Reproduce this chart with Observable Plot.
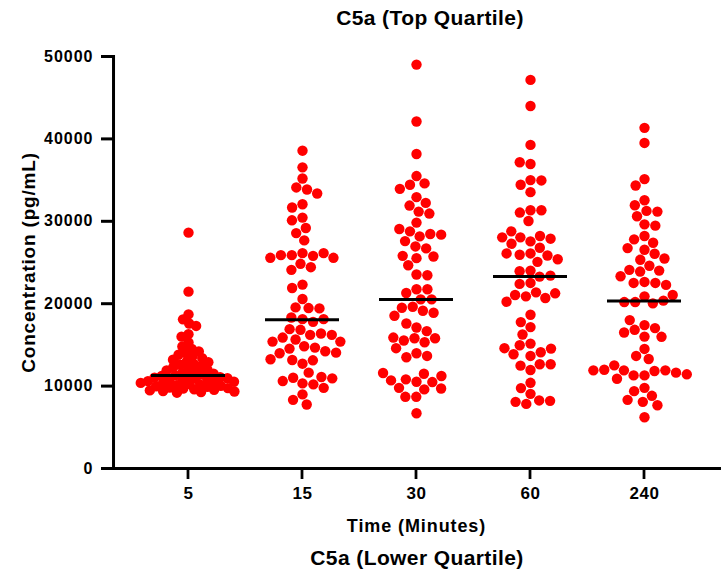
<!DOCTYPE html>
<html><head><meta charset="utf-8">
<script src="https://cdn.jsdelivr.net/npm/d3@7"></script>
<script src="https://cdn.jsdelivr.net/npm/@observablehq/plot@0.6"></script>
<style>
body{margin:0;background:#fff;}
#wrap{width:724px;height:569px;overflow:hidden;position:relative;background:#fff;font-family:"Liberation Sans",Arial,sans-serif;color:#000}
.ttl{position:absolute;width:600px;text-align:center;font-weight:bold;font-size:21px;line-height:21px;letter-spacing:0.4px;white-space:nowrap}
#chart{position:absolute;left:0;top:36px}
g[aria-label="y-axis label"] text{font-size:19px;letter-spacing:0.8px}
g[aria-label="fx-axis label"] text{font-size:18px;letter-spacing:0.9px}
g[aria-label="y-axis tick label"] text{font-size:16px;letter-spacing:1px}
g[aria-label="fx-axis tick label"] text{font-size:17px;letter-spacing:0.6px}
</style></head>
<body>
<div id="wrap">
  <div class="ttl" style="left:130px;top:7px">C5a (Top Quartile)</div>
  <div id="chart"></div>
  <div class="ttl" style="left:117px;top:547px">C5a (Lower Quartile)</div>
</div>
<script>
const times = ["5", "15", "30", "60", "240"];
const yTicks = [0, 10000, 20000, 30000, 40000, 50000];
const medians = [11300, 18050, 20500, 23300, 20330];

const t5 = [28620, 21460, 18700, 18100, 17600, 17300, 16300, 16000, 15300, 14800, 14500, 14200, 14000, 13800, 13600, 13400, 13200, 13000, 12900, 12700, 12600, 12400, 12300, 12100, 12000, 11900, 11800, 11600, 11500, 11400,
  11300,
  11230, 11160, 11090, 11020, 10950, 10880, 10810, 10740, 10670, 10600, 10530, 10460, 10390, 10320, 10250, 10180, 10110, 10040, 9970, 9900, 9830, 9760, 9690, 9620, 9550, 9480, 9410, 9340, 9270, 9200];
const t15 = [38570, 36550, 35200, 34110, 33860, 33380, 32070, 31670, 30450, 30120, 29190, 28570, 27680, 26140, 25890, 25810, 26140, 25890, 25570, 25570, 24840, 24430, 24110, 22320, 21910, 20570, 19550, 19470, 19430, 18130, 18330, 17800, 18130, 16830, 16910, 16220, 16380, 15890, 16220, 15650, 14840, 15400, 15400, 14670, 14550, 14230, 13990, 14060, 12720, 13170, 13130, 13260, 10330, 11010, 10210, 11100, 11630, 10610, 10940, 8990, 9790, 8330, 7770];
const t30 = [49020, 42110, 38170, 35490, 34430, 34600, 33940, 32930, 31910, 32230, 31180, 30940, 29840, 28780, 28170, 28460, 29060, 28380, 27600, 26950, 26710, 25530, 24670, 25810, 25730, 23540, 23450, 21750, 21300, 21750, 20530, 20530, 19630, 19510, 19150, 18900, 18540, 17110, 17600, 16670, 15810, 15320, 15530, 15810, 15890, 14600, 13990, 13500, 13660, 10530, 10820, 9600, 11500, 9790, 10490, 10690, 11220, 11590, 9710, 8700, 8700, 6710];
const t60 = [47160, 43990, 39270, 36950, 37160, 35000, 34430, 34960, 33540, 31340, 31060, 31340, 30040, 27560, 28050, 28210, 27890, 28780, 28050, 26100, 25940, 26790, 25850, 27280, 26100, 25400, 25080, 24020, 23940, 23290, 23410, 22520, 22400, 21380, 20890, 20690, 21060, 20240, 21260, 18660, 17160, 17770, 16260, 15160, 14960, 13660, 14110, 13870, 14550, 14600, 11950, 12480, 12650, 12650, 10400, 9760, 9060, 7840, 8260, 8090, 8210];
const t240 = [41340, 39510, 35120, 34350, 32560, 31950, 31260, 31180, 30610, 29630, 29470, 28210, 27810, 27400, 26550, 26750, 26060, 25330, 25490, 24600, 23900, 24020, 24110, 23330, 22640, 22520, 22520, 22280, 20890, 20200, 20040, 20370, 20200, 21060, 17400, 16830, 16010, 17040, 18010, 15980, 16500, 14510, 13660, 13290, 11300, 11300, 11830, 11910, 11910, 12520, 11630, 11990, 11430, 11910, 10890, 9790, 9390, 8820, 8090, 8330, 7680, 6220];

const series = [t5, t15, t30, t60, t240];
const rows = times.flatMap((t, i) => series[i].map(v => ({time: t, value: v})));
const medRows = times.map((t, i) => ({time: t, value: medians[i]}));

// layout of the facet bands
const W = 724, H = 500, mT = 20, mB = 68, mL = 113, mR = 4, padIn = 0.35, padOut = 0.3325;
const step = (W - mL - mR) / (times.length - padIn + 2 * padOut);
const outer = padOut * step;           // gap between the axes' ends and the outer bands
const band = (1 - padIn) * step;       // facet band width
// category tick marks below the x axis: 3px wide, 11px long (length expressed in y units)
const TICK_W = 3, TICK_LEN = 11;
const tickDepth = -TICK_LEN * 50000 / (H - mT - mB);
const tickInset = (band - TICK_W) / 2;
const tickRows = times.map(t => ({time: t, from: 0, to: tickDepth}));

const plot = Plot.plot({
  width: W, height: H,
  marginTop: mT, marginBottom: mB, marginLeft: mL, marginRight: mR,
  style: {fontFamily: "Liberation Sans, Arial, sans-serif", fontWeight: "bold", fontSize: "16px", color: "#000", background: "#fff", overflow: "visible"},
  fx: {domain: times, paddingInner: padIn, paddingOuter: padOut, label: null},
  y: {domain: [0, 50000]},
  marks: [
    Plot.dot(rows.filter(d => d.time !== "5"), Plot.dodgeX({anchor: "middle", padding: 0.5}, {fx: "time", y: "value", r: 5.2, fill: "#ff0000"})),
    Plot.dot(rows.filter(d => d.time === "5"), Plot.dodgeX({anchor: "middle", padding: -3}, {fx: "time", y: "value", r: 5.2, fill: "#ff0000"})),
    Plot.tickY(medRows, {fx: "time", y: "value", stroke: "#000", strokeWidth: 3}),
    Plot.rect(tickRows, {fx: "time", y1: "from", y2: "to", insetLeft: tickInset, insetRight: tickInset, fill: "#000"}),
    Plot.frame({anchor: "left", facet: "super", insetLeft: -outer, stroke: "#000", strokeWidth: 3}),
    Plot.frame({anchor: "bottom", facet: "super", insetLeft: -outer - 1.5, insetRight: -outer, stroke: "#000", strokeWidth: 3}),
    Plot.axisY(yTicks, {tickSize: 12, tickPadding: 8, strokeWidth: 3, tickFormat: "d", dx: -outer,
      label: "Concentration (pg/mL)", labelAnchor: "center", labelOffset: 130, labelArrow: "none"}),
    Plot.axisFx({anchor: "bottom", tickSize: 0, tickPadding: 18,
      label: "Time (Minutes)", labelAnchor: "center", labelOffset: 63, labelArrow: "none"})
  ]
});
document.getElementById("chart").appendChild(plot);
</script>
</body></html>
